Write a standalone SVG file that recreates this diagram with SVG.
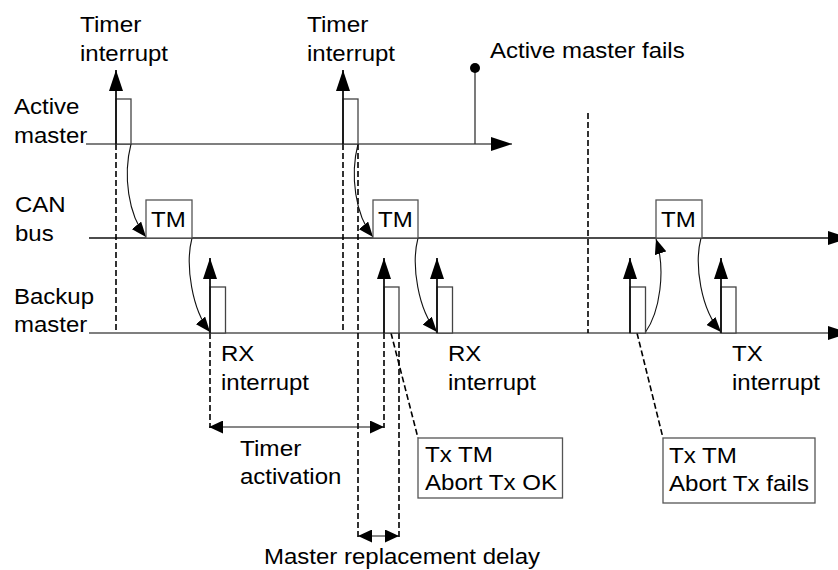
<svg xmlns="http://www.w3.org/2000/svg" width="838" height="570" viewBox="0 0 838 570">
<style>
text{font-family:"Liberation Sans",Arial,sans-serif;font-size:22px;fill:#000}
.lane{stroke:#555;stroke-width:1.5;fill:none}
.bus{stroke:#111;stroke-width:1.3;fill:none}
.pulse{fill:#fff;stroke:#444;stroke-width:1.3}
.box{fill:#fff;stroke:#555;stroke-width:1.3}
.up{stroke:#111;stroke-width:1.8;fill:none;marker-end:url(#big)}
.dash{stroke:#000;stroke-width:1.6;stroke-dasharray:6,3;fill:none}
.curve{stroke:#111;stroke-width:1.1;fill:none;marker-end:url(#small)}
.dim{stroke:#111;stroke-width:1.2;fill:none;marker-start:url(#dimh);marker-end:url(#dimh)}
</style>
<defs>
<marker id="big" viewBox="0 0 21 14" refX="21" refY="7" markerWidth="21" markerHeight="14" markerUnits="userSpaceOnUse" orient="auto"><path d="M0,0 L21,7 L0,14 Z" fill="#000"/></marker>
<marker id="small" viewBox="0 0 15 12" refX="15" refY="6" markerWidth="15" markerHeight="12" markerUnits="userSpaceOnUse" orient="auto"><path d="M0,0 L15,6 L0,12 Z" fill="#000"/></marker>
<marker id="dimh" viewBox="0 0 14 13" refX="14" refY="6.5" markerWidth="14" markerHeight="13" markerUnits="userSpaceOnUse" orient="auto-start-reverse"><path d="M0,0 L14,6.5 L0,13 Z" fill="#000"/></marker>
</defs>

<g id="lane-active-master">
<line class="lane" x1="86" y1="144" x2="512" y2="144" marker-end="url(#big)"/>
<text x="14" y="114" textLength="65.4" lengthAdjust="spacingAndGlyphs">Active</text>
<text x="14" y="143" textLength="73.3" lengthAdjust="spacingAndGlyphs">master</text>
</g>
<g id="lane-can-bus">
<line class="bus" x1="89" y1="238" x2="849" y2="238" marker-end="url(#big)"/>
<text x="15" y="212" textLength="50.7" lengthAdjust="spacingAndGlyphs">CAN</text>
<text x="15" y="241" textLength="38.7" lengthAdjust="spacingAndGlyphs">bus</text>
</g>
<g id="lane-backup-master">
<line class="lane" x1="89" y1="333" x2="849" y2="333" marker-end="url(#big)"/>
<text x="14" y="304" textLength="80" lengthAdjust="spacingAndGlyphs">Backup</text>
<text x="14" y="332" textLength="73.3" lengthAdjust="spacingAndGlyphs">master</text>
</g>

<g id="connectors">
<line class="dash" x1="116" y1="144" x2="116" y2="333"/>
<line class="dash" x1="343" y1="144" x2="343" y2="333"/>
<line class="dash" x1="358" y1="144" x2="358" y2="537"/>
<line class="dash" x1="210" y1="333" x2="210" y2="428"/>
<line class="dash" x1="384" y1="333" x2="384" y2="428"/>
<line class="dash" x1="399" y1="333" x2="399" y2="537"/>
<line class="dash" x1="588" y1="113" x2="588" y2="333"/>
<line class="dash" x1="391" y1="333" x2="418" y2="438"/>
<line class="dash" x1="637" y1="333" x2="663" y2="438"/>
<path class="curve" d="M131,144 C123,175 128,215 146,237"/>
<path class="curve" d="M192,238 C185,265 192,310 210,332"/>
<path class="curve" d="M358,144 C350,175 355,215 373,237"/>
<path class="curve" d="M418,238 C411,265 418,310 437,332"/>
<path class="curve" d="M645,333 C660,312 666,270 656,239"/>
<path class="curve" d="M701,238 C694,265 701,310 721,332"/>
<line x1="475" y1="68" x2="475" y2="144" stroke="#333" stroke-width="1.3"/>
<circle cx="475" cy="68" r="5" fill="#000"/>
<line class="dim" x1="209" y1="427" x2="384" y2="427"/>
<line class="dim" x1="358" y1="536" x2="399" y2="536"/>
</g>

<g id="timer-interrupt-1">
<rect class="pulse" x="116" y="99" width="15" height="45"/>
<line class="up" x1="116" y1="144" x2="116" y2="70"/>
<text x="80" y="32" textLength="61.3" lengthAdjust="spacingAndGlyphs">Timer</text>
<text x="80" y="61" textLength="88" lengthAdjust="spacingAndGlyphs">interrupt</text>
</g>
<g id="timer-interrupt-2">
<rect class="pulse" x="343" y="99" width="15" height="45"/>
<line class="up" x1="343" y1="144" x2="343" y2="70"/>
<text x="307" y="32" textLength="61.3" lengthAdjust="spacingAndGlyphs">Timer</text>
<text x="307" y="61" textLength="88" lengthAdjust="spacingAndGlyphs">interrupt</text>
</g>
<g id="active-master-fails">
<text x="490" y="58" textLength="194.7" lengthAdjust="spacingAndGlyphs">Active master fails</text>
</g>

<g id="tm-1">
<rect class="box" x="146" y="200" width="46" height="38"/>
<text x="151" y="227" textLength="34.7" lengthAdjust="spacingAndGlyphs">TM</text>
</g>
<g id="tm-2">
<rect class="box" x="373" y="200" width="45" height="38"/>
<text x="378" y="227" textLength="34.7" lengthAdjust="spacingAndGlyphs">TM</text>
</g>
<g id="tm-3">
<rect class="box" x="656" y="200" width="46" height="38"/>
<text x="661" y="227" textLength="34.7" lengthAdjust="spacingAndGlyphs">TM</text>
</g>

<g id="rx-interrupt-1">
<rect class="pulse" x="210" y="287" width="15.5" height="46"/>
<line class="up" x1="210" y1="333" x2="210" y2="258"/>
<text x="221" y="361" textLength="33.3" lengthAdjust="spacingAndGlyphs">RX</text>
<text x="221" y="390" textLength="88" lengthAdjust="spacingAndGlyphs">interrupt</text>
</g>
<g id="backup-timer-pulse">
<rect class="pulse" x="384" y="287" width="15" height="46"/>
<line class="up" x1="384" y1="333" x2="384" y2="258"/>
</g>
<g id="rx-interrupt-2">
<rect class="pulse" x="437" y="287" width="15.5" height="46"/>
<line class="up" x1="437" y1="333" x2="437" y2="258"/>
<text x="448" y="361" textLength="33.3" lengthAdjust="spacingAndGlyphs">RX</text>
<text x="448" y="390" textLength="88" lengthAdjust="spacingAndGlyphs">interrupt</text>
</g>
<g id="backup-tx-pulse">
<rect class="pulse" x="630" y="287" width="15.5" height="46"/>
<line class="up" x1="630" y1="333" x2="630" y2="258"/>
</g>
<g id="tx-interrupt">
<rect class="pulse" x="721" y="287" width="15" height="46"/>
<line class="up" x1="721" y1="333" x2="721" y2="258"/>
<text x="732" y="361" textLength="30.7" lengthAdjust="spacingAndGlyphs">TX</text>
<text x="732" y="390" textLength="88" lengthAdjust="spacingAndGlyphs">interrupt</text>
</g>

<g id="timer-activation">
<text x="240" y="456" textLength="61.3" lengthAdjust="spacingAndGlyphs">Timer</text>
<text x="240" y="484" textLength="101.4" lengthAdjust="spacingAndGlyphs">activation</text>
</g>
<g id="note-abort-ok">
<rect class="box" x="418" y="438" width="144.5" height="60"/>
<text x="425" y="462" textLength="68" lengthAdjust="spacingAndGlyphs">Tx TM</text>
<text x="425" y="490" textLength="132" lengthAdjust="spacingAndGlyphs">Abort Tx OK</text>
</g>
<g id="note-abort-fails">
<rect class="box" x="663" y="438" width="152" height="65"/>
<text x="669" y="463" textLength="68" lengthAdjust="spacingAndGlyphs">Tx TM</text>
<text x="669" y="491" textLength="140" lengthAdjust="spacingAndGlyphs">Abort Tx fails</text>
</g>
<g id="master-replacement-delay">
<text x="264" y="564" textLength="276" lengthAdjust="spacingAndGlyphs">Master replacement delay</text>
</g>
</svg>
